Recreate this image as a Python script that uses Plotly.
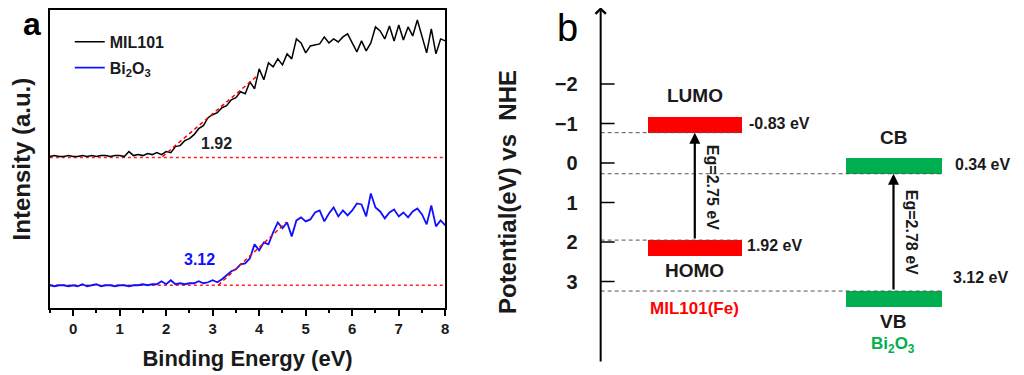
import plotly.graph_objects as go

FONT = "Arial, Liberation Sans, sans-serif"
W, H, OFF = 1016, 367, 8   # page body margin of 8px is compensated


def px(p):
    return (p - OFF) / W


def py(p):
    return 1 - (p - OFF) / H


def bf(size, color="#1a1a1a"):
    return dict(family=FONT, size=size, color=color, weight="bold")


# ---------------- panel a data ----------------
energy = [round(-0.5 + 0.1 * i, 1) for i in range(86)]
mil101 = [1.52, 1.53, 1.52, 1.52, 1.53, 1.52, 1.52, 1.53, 1.52, 1.53,
          1.52, 1.53, 1.53, 1.52, 1.53, 1.53, 1.52, 1.57, 1.53, 1.54,
          1.53, 1.55, 1.54, 1.56, 1.54, 1.57, 1.56, 1.62, 1.63, 1.68,
          1.70, 1.74, 1.80, 1.83, 1.91, 1.94, 1.96, 2.01, 2.03, 2.09,
          2.11, 2.17, 2.15, 2.27, 2.20, 2.40, 2.29, 2.46, 2.42, 2.50,
          2.44, 2.55, 2.50, 2.70, 2.66, 2.56, 2.63, 2.64, 2.65, 2.72,
          2.66, 2.70, 2.67, 2.72, 2.75, 2.66, 2.57, 2.68, 2.58, 2.66,
          2.82, 2.78, 2.70, 2.83, 2.68, 2.84, 2.69, 2.82, 2.73, 2.89,
          2.72, 2.56, 2.80, 2.55, 2.70, 2.68]
bi2o3 = [0.23, 0.22, 0.23, 0.23, 0.22, 0.23, 0.22, 0.24, 0.22, 0.23,
         0.24, 0.22, 0.23, 0.23, 0.22, 0.23, 0.23, 0.22, 0.23, 0.23,
         0.24, 0.23, 0.24, 0.24, 0.27, 0.24, 0.28, 0.24, 0.25, 0.24,
         0.25, 0.25, 0.27, 0.25, 0.26, 0.28, 0.26, 0.29, 0.33, 0.37,
         0.39, 0.44, 0.45, 0.50, 0.64, 0.58, 0.66, 0.64, 0.76, 0.86,
         0.80, 0.86, 0.72, 0.88, 0.91, 0.87, 0.89, 0.96, 0.98, 0.87,
         0.95, 1.01, 0.92, 0.98, 0.93, 0.98, 1.05, 1.04, 0.92, 1.15,
         1.01, 0.97, 0.90, 0.96, 0.99, 0.92, 0.96, 0.91, 0.97, 1.00,
         0.94, 0.84, 1.03, 0.82, 0.88, 0.83]
mil_fit_x = [1.92, 3.96]
mil_fit_y = [1.52, 2.33]
bi_fit_x = [3.12, 4.58]
bi_fit_y = [0.23, 0.86]
baseline_x = [-0.5, 8.0]
mil_base = 1.51
bi_base = 0.23
edge_labels = ["1.92", "3.12"]
edge_label_x = [3.08, 2.72]
edge_label_y = [1.65, 0.49]

# ---------------- panel b data ----------------
pot_ticks = [-2, -1, 0, 1, 2, 3]
materials = ["MIL101(Fe)", "Bi<sub>2</sub>O<sub>3</sub>"]
mat_x = [94.5, 294]            # column centres (x2 units)
mat_width = [95, 96]
upper_level = [-0.77, 0.27]    # LUMO / CB (as drawn)
lower_level = [1.95, 3.24]     # HOMO / VB (as drawn)
upper_text = ["-0.83 eV", "0.34 eV"]
lower_text = ["1.92 eV", "3.12 eV"]
upper_name = ["LUMO", "CB"]
lower_name = ["HOMO", "VB"]
eg_text = ["Eg=2.75 eV", "Eg=2.78 eV"]
eg_text_y = [0.62, 1.75]
bar_thick = 0.40
mat_colors = ["#ff0000", "#00b050"]

fig = go.Figure()

# panel a traces
for base in (mil_base, bi_base):
    fig.add_trace(go.Scatter(x=baseline_x, y=[base, base], mode="lines",
                             line=dict(color="#ff2020", width=1.5, dash="dot"),
                             showlegend=False, xaxis="x", yaxis="y"))
fig.add_trace(go.Scatter(x=energy, y=mil101, mode="lines", name="MIL101",
                         legendgroup="g1",
                         line=dict(color="black", width=1.5), xaxis="x", yaxis="y"))
fig.add_trace(go.Scatter(x=energy, y=bi2o3, mode="lines",
                         name="Bi<sub>2</sub>O<sub>3</sub>", legendgroup="g2",
                         line=dict(color="#1010ff", width=1.8), xaxis="x", yaxis="y"))
fig.add_trace(go.Scatter(x=mil_fit_x, y=mil_fit_y, mode="lines",
                         line=dict(color="#ff0000", width=1.5, dash="4px,3px"),
                         showlegend=False, xaxis="x", yaxis="y"))
fig.add_trace(go.Scatter(x=bi_fit_x, y=bi_fit_y, mode="lines",
                         line=dict(color="#ff0000", width=1.5, dash="4px,3px"),
                         showlegend=False, xaxis="x", yaxis="y"))

# panel b: dashed level lines
for i in range(2):
    right = mat_x[i] + mat_width[i] / 2
    for lev in (upper_level[i], lower_level[i]):
        fig.add_trace(go.Scatter(x=[0, right], y=[lev, lev], mode="lines",
                                 line=dict(color="#555555", width=1, dash="4px,3px"),
                                 showlegend=False, xaxis="x2", yaxis="y2"))

# panel b: bars (levels)
for i in range(2):
    fig.add_trace(go.Bar(x=[mat_x[i], mat_x[i]], y=[-bar_thick, bar_thick],
                         base=[upper_level[i], lower_level[i]],
                         width=mat_width[i],
                         marker=dict(color=mat_colors[i], line=dict(width=0)),
                         showlegend=False, xaxis="x2", yaxis="y2"))

# panel b: tick marks crossing the axis
tx, ty = [], []
for t in pot_ticks:
    tx += [-15, 14, None]
    ty += [t, t, None]
fig.add_trace(go.Scatter(x=tx, y=ty, mode="lines", line=dict(color="black", width=1.5),
                         showlegend=False, xaxis="x2", yaxis="y2"))

ann = []
# panel a annotations
for lab, lx, ly, col in zip(edge_labels, edge_label_x, edge_label_y, ["#222222", "#1010ff"]):
    ann.append(dict(x=lx, y=ly, xref="x", yref="y", text=lab, showarrow=False,
                    font=bf(16, col)))
ann.append(dict(x=px(32), y=py(23), xref="paper", yref="paper", text="a",
                xanchor="center", yanchor="middle",
                showarrow=False, font=bf(32, "black")))
ann.append(dict(x=px(570), y=py(27), xref="paper", yref="paper", text="b",
                xanchor="center", yanchor="middle",
                showarrow=False, font=dict(family=FONT, size=38, color="black")))

# panel b: vertical axis arrow
ann.append(dict(x=0, y=-3.95, ax=0, ay=5.06, xref="x2", yref="y2", axref="x2", ayref="y2",
                showarrow=True, arrowhead=4, arrowsize=1, arrowwidth=2, arrowcolor="black",
                text=""))
for i in range(2):
    ann.append(dict(x=mat_x[i], y=upper_level[i], ax=mat_x[i], ay=lower_level[i],
                    xref="x2", yref="y2", axref="x2", ayref="y2", showarrow=True,
                    arrowhead=2, arrowsize=1, arrowwidth=2.2, arrowcolor="black", text=""))
    ann.append(dict(x=mat_x[i] + 18, y=eg_text_y[i],
                    xref="x2", yref="y2", text=eg_text[i], textangle=90, showarrow=False,
                    xanchor="center", yanchor="middle", font=bf(16)))
    right = mat_x[i] + mat_width[i] / 2
    ann.append(dict(x=right + [5, 12][i], y=upper_level[i] - 0.23,
                    xref="x2", yref="y2", text=upper_text[i], showarrow=False,
                    xanchor="left", yanchor="middle", font=bf(16)))
    ann.append(dict(x=right + [3, 10][i], y=lower_level[i] + [0.13, -0.35][i],
                    xref="x2", yref="y2", text=lower_text[i], showarrow=False,
                    xanchor="left", yanchor="middle", font=bf(16)))
    ann.append(dict(x=mat_x[i], y=upper_level[i] - bar_thick - 0.53, xref="x2", yref="y2",
                    text=upper_name[i], showarrow=False, xanchor="center", yanchor="middle",
                    font=bf(19)))
    ann.append(dict(x=mat_x[i], y=lower_level[i] + bar_thick + 0.36, xref="x2", yref="y2",
                    text=lower_name[i], showarrow=False, xanchor="center", yanchor="middle",
                    font=bf(19)))
    ann.append(dict(x=mat_x[i], y=lower_level[i] + [1.72, 1.37][i], xref="x2", yref="y2",
                    text=materials[i], showarrow=False, xanchor="center", yanchor="middle",
                    font=bf(17, mat_colors[i])))

fig.update_layout(
    width=W, height=H,
    margin=dict(l=0, r=0, t=0, b=0),
    paper_bgcolor="white", plot_bgcolor="white",
    font=dict(family=FONT, color="black"),
    bargap=0, barmode="overlay",
    showlegend=True,
    legend=dict(x=px(70), y=py(24), xanchor="left", yanchor="top",
                bgcolor="rgba(0,0,0,0)", font=bf(16, "#1a1a1a"),
                traceorder="grouped", tracegroupgap=2, itemwidth=30),
    xaxis=dict(domain=[px(50), px(447)], range=[-0.5, 8], anchor="y",
               showgrid=False, zeroline=False, showline=True, linecolor="black", linewidth=1.5,
               mirror=True, ticks="outside", ticklen=6, tickwidth=1.5, tickcolor="black",
               dtick=1, tick0=0,
               minor=dict(ticks="outside", ticklen=3, tickwidth=1.5, dtick=0.5, tick0=0,
                          tickcolor="black"),
               tickfont=bf(15),
               title=dict(text="Binding Energy (eV)", standoff=15, font=bf(22))),
    yaxis=dict(domain=[py(308), py(9)], range=[0, 2.99], anchor="x",
               showgrid=False, zeroline=False, showline=True, linecolor="black", linewidth=1.5,
               mirror=True, showticklabels=False, ticks="",
               title=dict(text="Intensity (a.u.)", standoff=19, font=bf(24))),
    xaxis2=dict(domain=[px(603), 1.0], range=[0, 421], anchor="y2", visible=False),
    yaxis2=dict(domain=[0, 1], range=[5.366, -3.902], anchor="x2", showgrid=False,
                zeroline=False, showline=False, ticks="", tickvals=pot_ticks,
                ticklabelstandoff=22, tickfont=bf(20),
                title=dict(text="Potential(eV) vs  NHE", standoff=31, font=bf(24))),
    annotations=ann,
)

fig.write_html("out.html")
